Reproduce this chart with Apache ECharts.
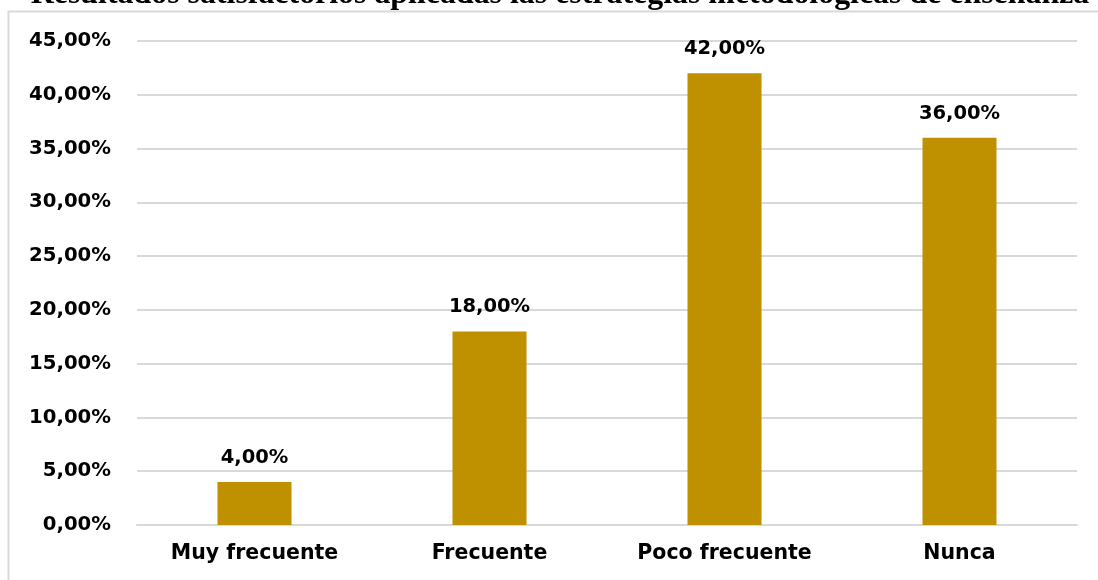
<!DOCTYPE html>
<html>
<head>
<meta charset="utf-8">
<script src="https://cdn.jsdelivr.net/npm/echarts@6/dist/echarts.min.js"></script>
<style>
html,body{margin:0;padding:0;background:#fff;}
#chart{width:1098px;height:580px;}
</style>
</head>
<body>
<div id="chart"></div>
<script>
const categories = ['Muy frecuente', 'Frecuente', 'Poco frecuente', 'Nunca'];
const values = [4, 18, 42, 36];
const titleText = 'Resultados satisfactorios aplicadas las estrategias metodológicas de enseñanza';

const fmt = v => v.toFixed(2).replace('.', ',') + '%';

// fit title to the reference's visible span (~1060px)
const cv = document.createElement('canvas').getContext('2d');
cv.font = 'bold 100px "Liberation Serif"';
const titleSize = Math.round(100 * 1060 / cv.measureText(titleText).width * 10) / 10;

const chart = echarts.init(document.getElementById('chart'));
chart.setOption({
  animation: false,
  backgroundColor: '#fff',
  grid: { left: 137, right: 21, top: 41, bottom: 55, containLabel: false },
  graphic: [
    { type: 'polyline', shape: { points: [[8.5, 600], [8.5, 11.5], [1100, 11.5]] },
      style: { fill: 'none', stroke: '#D9D9D9', lineWidth: 2 }, z: -1 },
    { type: 'text', x: 560, y: 11,
      style: { text: titleText, fill: '#000', font: 'bold ' + titleSize + 'px "Liberation Serif"',
        textAlign: 'center', textVerticalAlign: 'bottom' }, z: 10 }
  ],
  xAxis: {
    type: 'category', data: categories,
    axisLine: { show: true, lineStyle: { color: '#D9D9D9', width: 2 } },
    axisTick: { show: false },
    axisLabel: { color: '#000', fontFamily: 'DejaVu Sans', fontWeight: 'bold', fontSize: 20.5, margin: 18 }
  },
  yAxis: {
    type: 'value', min: 0, max: 45, interval: 5,
    axisLine: { show: false }, axisTick: { show: false },
    splitLine: { lineStyle: { color: '#D9D9D9', width: 2 } },
    axisLabel: { color: '#000', fontFamily: 'DejaVu Sans', fontWeight: 'bold', fontSize: 19.7, margin: 26,
      formatter: v => fmt(v) }
  },
  series: [{
    type: 'bar', data: values, barWidth: '31.5%',
    itemStyle: { color: '#BF9000' },
    label: { show: true, position: 'top', distance: 14, color: '#000', fontFamily: 'DejaVu Sans',
      fontWeight: 'bold', fontSize: 19.5, formatter: p => fmt(p.value) }
  }]
});
</script>
</body>
</html>
